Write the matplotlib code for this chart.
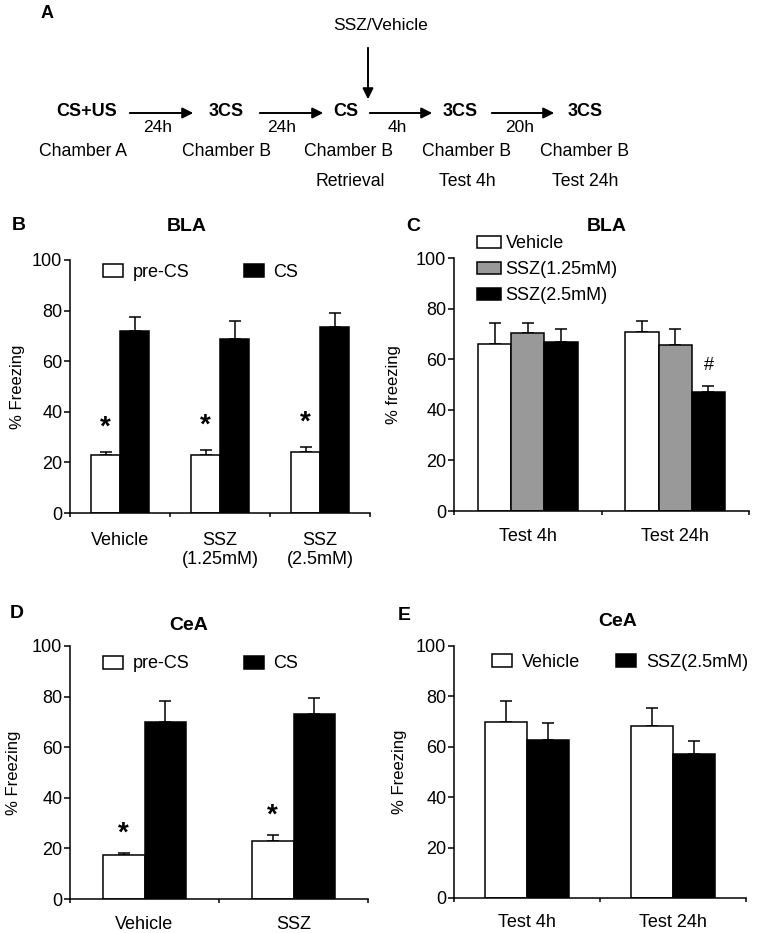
import numpy as np
import matplotlib
matplotlib.use("Agg")
import matplotlib.pyplot as plt
from matplotlib.patches import FancyArrowPatch

plt.rcParams['font.family'] = ['Liberation Sans', 'DejaVu Sans']

W, H = 768, 933

# panel B - BLA, pre-CS vs CS
bla_groups = ['Vehicle', 'SSZ\n(1.25mM)', 'SSZ\n(2.5mM)']
bla_precs = [23.0, 23.0, 24.3]
bla_precs_err = [1.1, 1.9, 1.7]
bla_cs = [72.1, 68.7, 73.4]
bla_cs_err = [5.5, 7.0, 5.8]

# panel C - BLA, test sessions
c_groups = ['Test 4h', 'Test 24h']
c_vehicle = [66.0, 70.9]
c_vehicle_err = [8.2, 4.2]
c_ssz125 = [70.3, 65.5]
c_ssz125_err = [3.9, 6.5]
c_ssz25 = [66.7, 47.2]
c_ssz25_err = [5.3, 2.2]

# panel D - CeA, pre-CS vs CS
d_groups = ['Vehicle', 'SSZ']
d_precs = [17.5, 22.8]
d_precs_err = [0.5, 2.3]
d_cs = [70.1, 73.2]
d_cs_err = [8.2, 6.4]

# panel E - CeA, test sessions
e_groups = ['Test 4h', 'Test 24h']
e_vehicle = [69.7, 68.2]
e_vehicle_err = [8.4, 7.2]
e_ssz = [62.6, 57.0]
e_ssz_err = [6.7, 5.3]

FS = 13
LW = 1.1


def px(x, y):
    return x / W, 1 - y / H


def style_axes(ax, labels, ylabel, label_x, pad):
    n = len(labels)
    ax.set_xlim(0, n)
    ax.set_ylim(0, 100)
    ax.spines['top'].set_visible(False)
    ax.spines['right'].set_visible(False)
    for s in ('left', 'bottom'):
        ax.spines[s].set_linewidth(LW)
    ax.set_yticks(np.arange(0, 101, 20))
    ax.tick_params(axis='y', direction='out', length=4.5, width=LW, pad=1, labelsize=FS)
    ax.set_xticks(np.arange(0, n + 1))
    ax.set_xticklabels([])
    ax.tick_params(axis='x', which='major', direction='out', length=3, width=LW)
    ax.set_xticks(np.arange(n) + 0.5, minor=True)
    ax.set_xticklabels(labels, minor=True, fontsize=FS, linespacing=1.12)
    ax.tick_params(axis='x', which='minor', length=0, pad=pad)
    ax.set_ylabel(ylabel, fontsize=12)
    ax.yaxis.set_label_coords(label_x, 0.5)


def bars(ax, x, vals, errs, color, width, label):
    ax.bar(x, vals, width, color=color, edgecolor='black', linewidth=LW, label=label, zorder=2)
    ax.errorbar(x, vals, yerr=[np.zeros(len(errs)), errs], fmt='none', ecolor='black',
                elinewidth=LW, capsize=4.5, capthick=LW, zorder=1)


fig = plt.figure(figsize=(W / 100, H / 100), dpi=100)

# ---- panel A: protocol diagram ----
fig.text(*px(47, 14), 'A', fontsize=13, fontweight='bold', ha='center', va='center')
fig.text(*px(381, 25), 'SSZ/Vehicle', fontsize=12.5, ha='center', va='center')
fig.add_artist(FancyArrowPatch(px(368, 45), px(368, 102), transform=fig.transFigure,
                               arrowstyle='-|>', mutation_scale=16, lw=1.4, color='black'))
stages = ['CS+US', '3CS', 'CS', '3CS', '3CS']
stage_x = [87, 226, 346, 460, 585]
for s, x in zip(stages, stage_x):
    fig.text(*px(x, 111), s, fontsize=13, fontweight='bold', ha='center', va='center')
delays = ['24h', '24h', '4h', '20h']
arrow_x = [(127, 196), (257, 326), (367, 435), (489, 557)]
delay_x = [158, 282, 397, 520]
for d, (x0, x1), dx in zip(delays, arrow_x, delay_x):
    fig.add_artist(FancyArrowPatch(px(x0, 113), px(x1, 113), transform=fig.transFigure,
                                   arrowstyle='-|>', mutation_scale=16, lw=1.4, color='black'))
    fig.text(*px(dx, 128), d, fontsize=12.5, ha='center', va='center')
chambers = ['Chamber A', 'Chamber B', 'Chamber B', 'Chamber B', 'Chamber B']
chamber_x = [83, 226, 349, 467, 584]
for c, x in zip(chambers, chamber_x):
    fig.text(*px(x, 152), c, fontsize=12.7, ha='center', va='center')
for t, x in zip(['Retrieval', 'Test 4h', 'Test 24h'], [350, 467, 585]):
    fig.text(*px(x, 182), t, fontsize=12.7, ha='center', va='center')

# ---- panel B ----
axB = fig.add_axes([70 / W, 1 - 513 / H, 300 / W, 253 / H])
xb = np.arange(len(bla_groups)) + 0.5
wb = 0.29
bars(axB, xb - wb / 2, bla_precs, bla_precs_err, 'white', wb, 'pre-CS')
bars(axB, xb + wb / 2, bla_cs, bla_cs_err, 'black', wb, 'CS')
for x, v, e in zip(xb - wb / 2, bla_precs, bla_precs_err):
    axB.text(x, v + e + 9.8, '*', fontsize=20, fontweight='bold', ha='center', va='center')
style_axes(axB, bla_groups, '% Freezing', -0.15, 14)
axB.legend(loc='center left', bbox_to_anchor=(0.11, 0.95), ncol=2, frameon=False,
           fontsize=FS, handlelength=1.1, handleheight=0.72, handletextpad=0.55,
           columnspacing=3.0, borderaxespad=0, borderpad=0)

# ---- panel C ----
axC = fig.add_axes([454 / W, 1 - 511 / H, 295 / W, 253 / H])
xc = np.arange(len(c_groups)) + 0.5
wc = 0.225
bars(axC, xc - wc, c_vehicle, c_vehicle_err, 'white', wc, 'Vehicle')
bars(axC, xc, c_ssz125, c_ssz125_err, '#999999', wc, 'SSZ(1.25mM)')
bars(axC, xc + wc, c_ssz25, c_ssz25_err, 'black', wc, 'SSZ(2.5mM)')
axC.text(xc[1] + wc, c_ssz25[1] + c_ssz25_err[1] + 8.3, '#', fontsize=FS,
         ha='center', va='center')
style_axes(axC, c_groups, '% freezing', -0.18, 12)
axC.legend(loc='center left', bbox_to_anchor=(0.078, 0.953), ncol=1, frameon=False,
           fontsize=FS, handlelength=1.33, handleheight=0.6, handletextpad=0.25,
           labelspacing=0.5, borderaxespad=0, borderpad=0)

# ---- panel D ----
axD = fig.add_axes([70 / W, 1 - 899 / H, 298 / W, 253 / H])
xd = np.arange(len(d_groups)) + 0.5
wd = 0.28
bars(axD, xd - wd / 2, d_precs, d_precs_err, 'white', wd, 'pre-CS')
bars(axD, xd + wd / 2, d_cs, d_cs_err, 'black', wd, 'CS')
for x, v, e in zip(xd - wd / 2, d_precs, d_precs_err):
    axD.text(x, v + e + 8.0, '*', fontsize=20, fontweight='bold', ha='center', va='center')
style_axes(axD, d_groups, '% Freezing', -0.164, 12)
axD.legend(loc='center left', bbox_to_anchor=(0.111, 0.929), ncol=2, frameon=False,
           fontsize=FS, handlelength=1.1, handleheight=0.72, handletextpad=0.55,
           columnspacing=3.0, borderaxespad=0, borderpad=0)

# ---- panel E ----
axE = fig.add_axes([454 / W, 1 - 898 / H, 292 / W, 252 / H])
xe = np.arange(len(e_groups)) + 0.5
we = 0.29
bars(axE, xe - we / 2, e_vehicle, e_vehicle_err, 'white', we, 'Vehicle')
bars(axE, xe + we / 2, e_ssz, e_ssz_err, 'black', we, 'SSZ(2.5mM)')
style_axes(axE, e_groups, '% Freezing', -0.161, 11.5)
axE.legend(loc='center left', bbox_to_anchor=(0.13, 0.935), ncol=2, frameon=False,
           fontsize=FS, handlelength=1.1, handleheight=0.72, handletextpad=0.55,
           columnspacing=2.0, borderaxespad=0, borderpad=0)

# panel letters and titles
for letter, (x, y) in zip('BCDE', [(19, 225), (413, 227), (17, 614), (404, 616)]):
    fig.text(*px(x, y), letter, fontsize=14, fontweight='bold', ha='center', va='center')
for title, (x, y) in zip(['BLA', 'BLA', 'CeA', 'CeA'],
                         [(187, 227), (607, 227), (189, 626), (618, 621)]):
    fig.text(*px(x, y), title, fontsize=14, fontweight='bold', ha='center', va='center')

fig.savefig('out.png', dpi=100)
